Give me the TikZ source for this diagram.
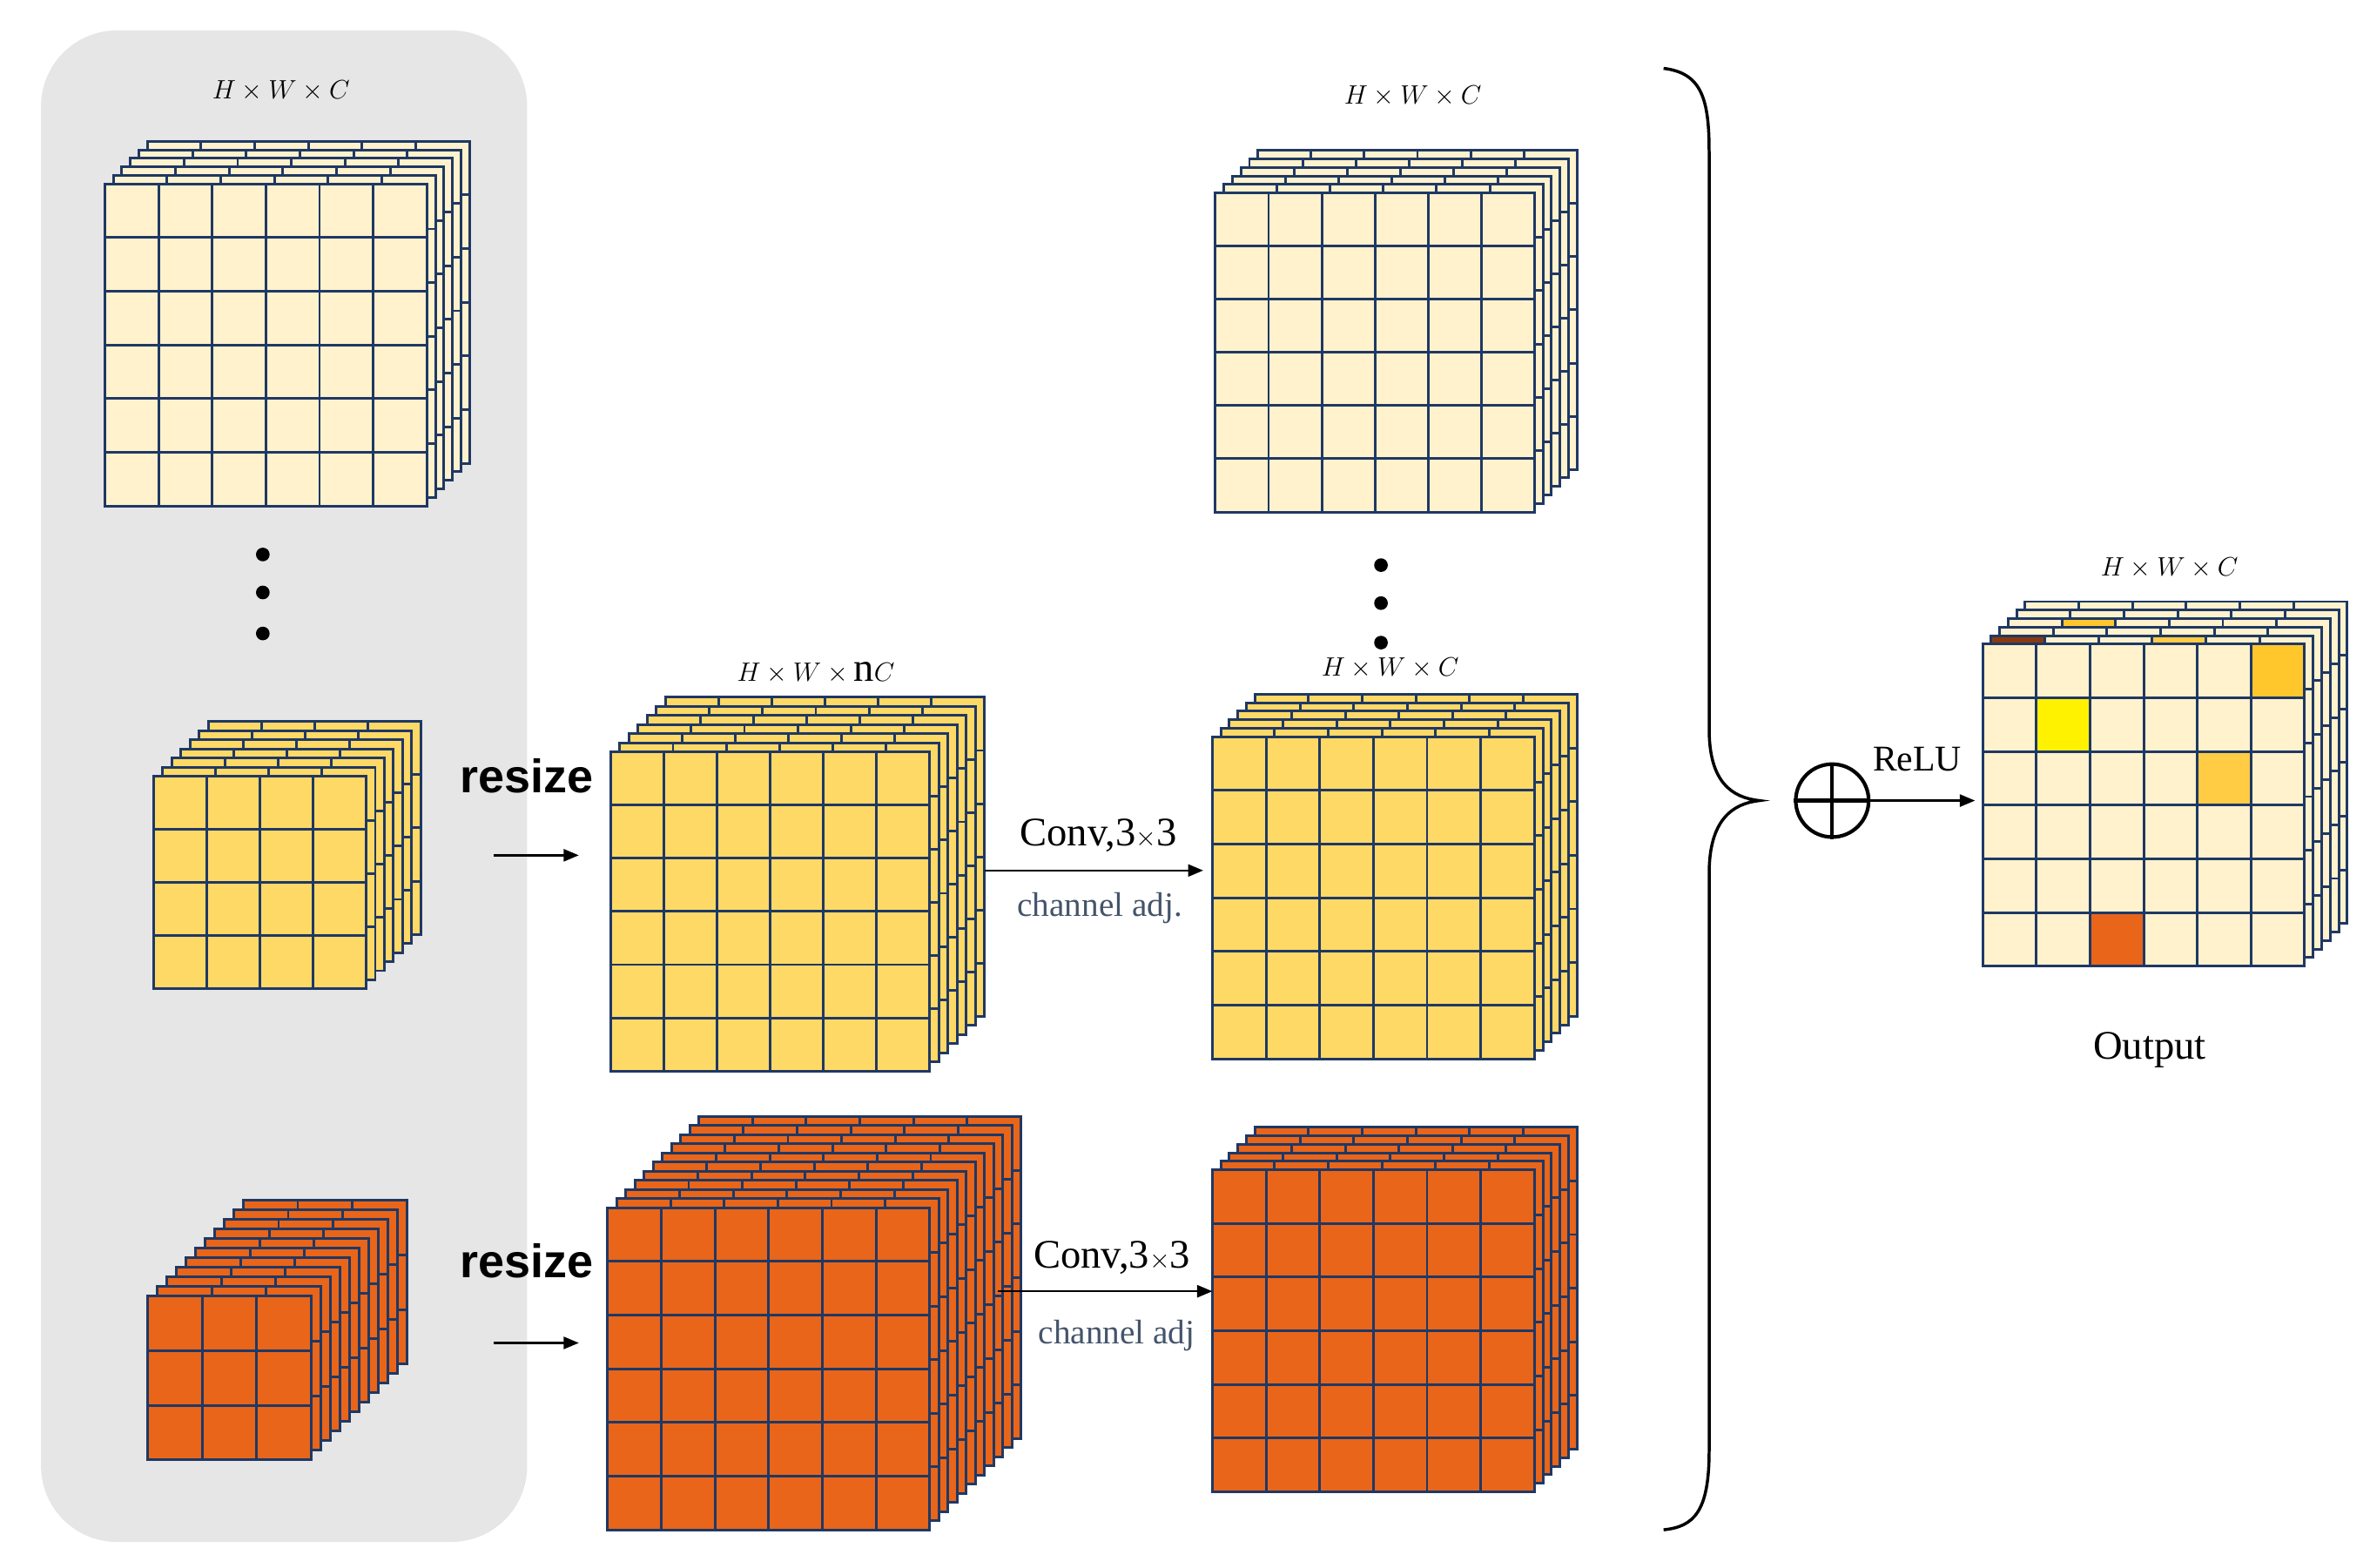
\documentclass[tikz,border=0pt]{standalone}
\usepackage{fontspec}
\setmainfont{Liberation Serif}
\newfontfamily\sansb{Liberation Sans}
\usetikzlibrary{arrows.meta}
\definecolor{navy}{HTML}{1F3864}
\definecolor{cream}{HTML}{FFF2CC}
\definecolor{ylw}{HTML}{FFD966}
\definecolor{org}{HTML}{E8651A}
\definecolor{gold}{HTML}{FFC72C}
\definecolor{gold2}{HTML}{FFCC44}
\definecolor{brown}{HTML}{8B3A0F}
\definecolor{bg}{HTML}{E6E6E6}
\definecolor{adj}{HTML}{44546A}
\newcommand\mylayer[5]{% x y n s color
  \fill[#5] (#1,#2) rectangle ++({#3*#4},{#3*#4});
  \foreach \ii in {0,...,#3}{
    \draw[grid] ({#1+\ii*#4},#2) -- ++(0,{#3*#4});
    \draw[grid] (#1,{#2+\ii*#4}) -- ++({#3*#4},0);}
}
\newcommand\mycube[7]{% x y n s L d color
  \foreach \kk in {#5,...,0}{
    \mylayer{#1+\kk*#6}{#2-\kk*#6}{#3}{#4}{#7}}
}
\tikzset{grid/.style={navy,line width=0.085cm,line cap=rect},
  lab/.style={font=\fontsize{38}{44}\selectfont},
  arr/.style={line width=0.07cm,-{Triangle[length=0.5cm,width=0.4cm]}},
  rs/.style={font=\sansb\bfseries\fontsize{44}{50}\selectfont}}
\begin{document}
\begin{tikzpicture}[x=0.05cm,y=-0.05cm]
\useasboundingbox (0,0) rectangle (1560,1032);
\fill[bg,rounded corners=2.5cm] (27,20) rectangle (347,1015);
% stacks
\mycube{69}{121}{6}{35.33}{5}{5.6}{cream}
\mycube{101}{511}{4}{35}{6}{6}{ylw}
\mycube{97}{853}{3}{36}{10}{6.3}{org}
\mycube{402}{495}{6}{35}{6}{6}{ylw}
\mycube{400}{795}{6}{35.33}{10}{6}{org}
\mycube{800}{127}{6}{35}{5}{5.6}{cream}
\mycube{798}{485}{6}{35.33}{5}{5.6}{ylw}
\mycube{798}{770}{6}{35.33}{5}{5.6}{org}
% output
\foreach \kk in {5,4}{\mylayer{1305+\kk*5.6}{424-\kk*5.6}{6}{35.33}{cream}}
\mylayer{1305+3*5.6}{424-3*5.6}{6}{35.33}{cream}
\fill[gold] ({1305+3*5.6+35.33},{424-3*5.6}) rectangle ++(35.33,35.33);
\draw[grid] ({1305+3*5.6+35.33},{424-3*5.6}) rectangle ++(35.33,35.33);
\mylayer{1305+2*5.6}{424-2*5.6}{6}{35.33}{cream}
\mylayer{1305+1*5.6}{424-1*5.6}{6}{35.33}{cream}
\fill[brown] ({1305+5.6},{424-5.6}) rectangle ++(35.33,35.33);
\fill[gold2] ({1305+5.6+3*35.33},{424-5.6}) rectangle ++(35.33,35.33);
\draw[grid] ({1305+5.6},{424-5.6}) rectangle ++(35.33,35.33);
\draw[grid] ({1305+5.6+3*35.33},{424-5.6}) rectangle ++(35.33,35.33);
\mylayer{1305}{424}{6}{35.33}{cream}
\foreach \c/\r/\col in {5/0/gold,1/1/yellow,4/2/gold2,2/5/org}{
  \fill[\col] ({1305+\c*35.33},{424+\r*35.33}) rectangle ++(35.33,35.33);
  \draw[grid] ({1305+\c*35.33},{424+\r*35.33}) rectangle ++(35.33,35.33);}
% labels
\node[lab] (l1) at (185,60) {$H\times W\times C$};
\node[lab] (l4) at (537,443) {$H\times W\times \mathrm{n}C$};
\node[lab] (l6) at (930,63) {$H\times W\times C$};
\node[lab] (l7) at (915,440) {$H\times W\times C$};
\node[lab] (lo) at (1428,374) {$H\times W\times C$};
\node[lab] (out) at (1415,691) {Output};
\foreach \yy in {365,390,417}{\fill (173,\yy) circle (4.5);}
\foreach \yy in {372,397,423}{\fill (909,\yy) circle (4.5);}
\node[rs] (r1) at (347,511) {resize};
\node[rs] (r2) at (347,830) {resize};
\coordinate (a1) at (325,563); \coordinate (b1) at (381,563);
\coordinate (a2) at (325,884); \coordinate (b2) at (381,884);
\draw[arr] (a1) -- (b1); \draw[arr] (a2) -- (b2);
\coordinate (c1) at (648,573); \coordinate (d1) at (792,573);
\coordinate (c2) at (657,850); \coordinate (d2) at (798,850);
\draw[arr] (c1) -- (d1); \draw[arr] (c2) -- (d2);
\node[lab] (cv1) at (723,550) {Conv,3$\times$3};
\node[lab] (cv2) at (732,828) {Conv,3$\times$3};
\node[font=\fontsize{32}{38}\selectfont,text=adj] (ad1) at (724,598) {channel adj.};
\node[font=\fontsize{32}{38}\selectfont,text=adj] (ad2) at (735,879) {channel adj};
% brace
\draw[line width=0.1cm] (1095,45) .. controls (1120,48) and (1125,65) .. (1125,100) -- (1125,480) .. controls (1125,515) and (1140,525) .. (1158,527) .. controls (1140,529) and (1125,540) .. (1125,575) -- (1125,955) .. controls (1125,995) and (1115,1005) .. (1095,1007);
\node[circle,draw,line width=0.12cm,minimum size=2.4cm] (op) at (1206,527) {};
\draw[line width=0.12cm] (op.north) -- (op.south) (op.west) -- (op.east);
\coordinate (rl) at (1300,527);
\draw[arr] (op.east) -- (rl);
\node[font=\fontsize{34}{40}\selectfont] (relu) at (1262,500) {ReLU};
\end{tikzpicture}
\end{document}
